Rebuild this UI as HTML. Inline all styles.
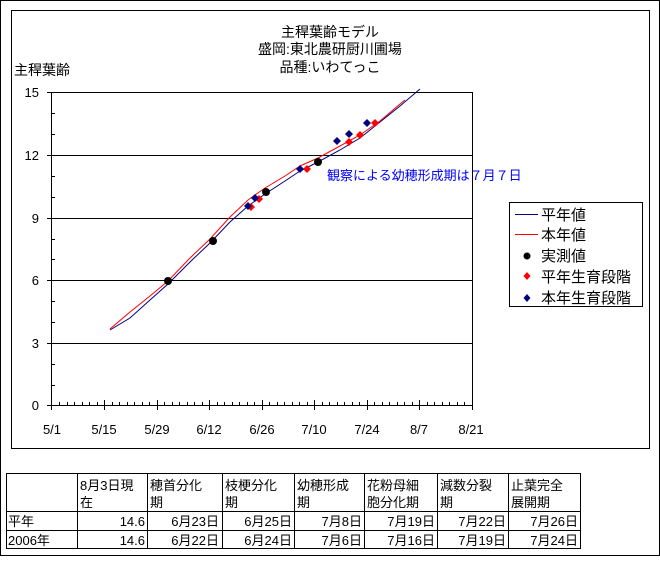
<!DOCTYPE html>
<html><head><meta charset="utf-8"><style>
body{margin:0;background:#fff}
svg text{font-family:"Liberation Sans","Noto Sans CJK JP",sans-serif;}
</style></head><body>
<svg width="660" height="556" viewBox="0 0 660 556" xmlns="http://www.w3.org/2000/svg" shape-rendering="crispEdges">
<rect x="0.5" y="0.5" width="659" height="555" fill="#fff" stroke="#000"/>
<rect x="11.5" y="10.5" width="638" height="438" fill="#fff" stroke="#000"/>
<g font-size="14" text-anchor="middle" fill="#000">
<text x="330" y="37">主稈葉齢モデル</text>
<text x="330" y="54">盛岡:東北農研厨川圃場</text>
<text x="330" y="72">品種:いわてっこ</text>
</g>
<text x="14" y="75" font-size="14">主稈葉齢</text>
<g stroke="#000" stroke-width="1">
<line x1="51.5" y1="92.5" x2="473" y2="92.5"/>
<line x1="51.5" y1="155.5" x2="473" y2="155.5"/>
<line x1="51.5" y1="218.5" x2="473" y2="218.5"/>
<line x1="51.5" y1="280.5" x2="473" y2="280.5"/>
<line x1="51.5" y1="343.5" x2="473" y2="343.5"/>
<line x1="47" y1="405.5" x2="473" y2="405.5"/>
<line x1="51.5" y1="92" x2="51.5" y2="410"/>
<line x1="472.5" y1="92" x2="472.5" y2="405"/>
<line x1="47" y1="92.5" x2="52" y2="92.5"/><line x1="47" y1="155.5" x2="52" y2="155.5"/><line x1="47" y1="218.5" x2="52" y2="218.5"/><line x1="47" y1="280.5" x2="52" y2="280.5"/><line x1="47" y1="343.5" x2="52" y2="343.5"/>
<line x1="51.5" y1="113.5" x2="55" y2="113.5"/><line x1="51.5" y1="134.5" x2="55" y2="134.5"/><line x1="51.5" y1="176.5" x2="55" y2="176.5"/><line x1="51.5" y1="197.5" x2="55" y2="197.5"/><line x1="51.5" y1="239.5" x2="55" y2="239.5"/><line x1="51.5" y1="259.5" x2="55" y2="259.5"/><line x1="51.5" y1="301.5" x2="55" y2="301.5"/><line x1="51.5" y1="322.5" x2="55" y2="322.5"/><line x1="51.5" y1="364.5" x2="55" y2="364.5"/><line x1="51.5" y1="385.5" x2="55" y2="385.5"/>
<path fill="none" d="M59.5,402v3M67.5,402v3M74.5,402v3M82.5,402v3M89.5,402v3M97.5,402v3M112.5,402v3M119.5,402v3M127.5,402v3M134.5,402v3M142.5,402v3M149.5,402v3M164.5,402v3M172.5,402v3M179.5,402v3M187.5,402v3M194.5,402v3M202.5,402v3M217.5,402v3M224.5,402v3M232.5,402v3M239.5,402v3M247.5,402v3M254.5,402v3M269.5,402v3M277.5,402v3M284.5,402v3M292.5,402v3M299.5,402v3M307.5,402v3M322.5,402v3M329.5,402v3M337.5,402v3M344.5,402v3M352.5,402v3M359.5,402v3M374.5,402v3M382.5,402v3M389.5,402v3M397.5,402v3M404.5,402v3M412.5,402v3M427.5,402v3M434.5,402v3M442.5,402v3M449.5,402v3M457.5,402v3M464.5,402v3M104.5,400v10M157.5,400v10M209.5,400v10M262.5,400v10M314.5,400v10M367.5,400v10M419.5,400v10M472.5,400v10"/>
</g>
<g font-size="13" text-anchor="middle">
<text x="52" y="434">5/1</text><text x="104" y="434">5/15</text><text x="157" y="434">5/29</text><text x="209" y="434">6/12</text><text x="262" y="434">6/26</text><text x="314" y="434">7/10</text><text x="367" y="434">7/24</text><text x="419" y="434">8/7</text><text x="471" y="434">8/21</text>
</g>
<g font-size="13" text-anchor="end">
<text x="39" y="97">15</text><text x="39" y="160">12</text><text x="39" y="223">9</text><text x="39" y="285">6</text><text x="39" y="348">3</text><text x="39" y="410">0</text>
</g>
<g shape-rendering="auto" fill="none">
<polyline stroke="#000080" stroke-width="1" points="110,330 130,318 150,300 168,284 190,262 210,243 230,222 248,206 265,194 285,181 300,171 318,162 340,150 360,138 380,122 400,106 420,89"/>
<polyline stroke="#ff0000" stroke-width="1" points="110,329 130,312 150,296 168,281 190,258 210,239 230,217 248,200 265,188 285,176 300,166 318,158 340,146 360,135 380,121 400,104 405,100"/>
</g>
<g shape-rendering="auto">
<g fill="#ff0000">
<path d="M251,203l4,4l-4,4l-4,-4z"/><path d="M259,195l4,4l-4,4l-4,-4z"/><path d="M307,165l4,4l-4,4l-4,-4z"/><path d="M349,138l4,4l-4,4l-4,-4z"/><path d="M360,131l4,4l-4,4l-4,-4z"/><path d="M375,119l4,4l-4,4l-4,-4z"/>
</g>
<g fill="#000080">
<path d="M248,202l4,4l-4,4l-4,-4z"/><path d="M255,194l4,4l-4,4l-4,-4z"/><path d="M300,165l4,4l-4,4l-4,-4z"/><path d="M337,137l4,4l-4,4l-4,-4z"/><path d="M349,130l4,4l-4,4l-4,-4z"/><path d="M367,119l4,4l-4,4l-4,-4z"/>
</g>
<g fill="#000">
<circle cx="168" cy="281" r="4"/><circle cx="213" cy="241" r="4"/><circle cx="266" cy="192" r="4"/><circle cx="318" cy="162" r="4"/>
</g>
</g>
<text x="327" y="180" font-size="13" fill="#0000ff">観察による幼穂形成期は７月７日</text>
<rect x="509.5" y="202.5" width="133" height="104" fill="#fff" stroke="#000"/>
<g font-size="15">
<line x1="515" y1="214.5" x2="538" y2="214.5" stroke="#000080"/><text x="541" y="220">平年値</text>
<line x1="515" y1="234.5" x2="538" y2="234.5" stroke="#ff0000"/><text x="541" y="240">本年値</text>
<circle cx="527" cy="256" r="3.5" fill="#000" shape-rendering="auto"/><text x="541" y="261">実測値</text>
<path d="M527,272l3.5,4l-3.5,4l-3.5,-4z" fill="#ff0000" shape-rendering="auto"/><text x="541" y="282">平年生育段階</text>
<path d="M527,294l3.5,4l-3.5,4l-3.5,-4z" fill="#000080" shape-rendering="auto"/><text x="541" y="303">本年生育段階</text>
</g>
<g stroke="#000">
<rect x="6.5" y="473.5" width="574" height="75" fill="none"/>
<line x1="6" y1="511.5" x2="581" y2="511.5"/><line x1="6" y1="530.5" x2="581" y2="530.5"/>
<line x1="77.5" y1="473" x2="77.5" y2="549"/><line x1="147.5" y1="473" x2="147.5" y2="549"/><line x1="222.5" y1="473" x2="222.5" y2="549"/><line x1="294.5" y1="473" x2="294.5" y2="549"/><line x1="364.5" y1="473" x2="364.5" y2="549"/><line x1="437.5" y1="473" x2="437.5" y2="549"/><line x1="508.5" y1="473" x2="508.5" y2="549"/>
</g>
<g font-size="13">
<text x="80" y="490">8月3日現</text><text x="80" y="507">在</text>
<text x="150" y="490">穂首分化</text><text x="150" y="507">期</text>
<text x="225" y="490">枝梗分化</text><text x="225" y="507">期</text>
<text x="297" y="490">幼穂形成</text><text x="297" y="507">期</text>
<text x="367" y="490">花粉母細</text><text x="367" y="507">胞分化期</text>
<text x="440" y="490">減数分裂</text><text x="440" y="507">期</text>
<text x="511" y="490">止葉完全</text><text x="511" y="507">展開期</text>
<text x="8" y="526">平年</text><text x="8" y="545">2006年</text>
</g>
<g font-size="13" text-anchor="end">
<text x="145" y="526">14.6</text><text x="219" y="526">6月23日</text><text x="292" y="526">6月25日</text><text x="362" y="526">7月8日</text><text x="435" y="526">7月19日</text><text x="506" y="526">7月22日</text><text x="578" y="526">7月26日</text>
<text x="145" y="545">14.6</text><text x="219" y="545">6月22日</text><text x="292" y="545">6月24日</text><text x="362" y="545">7月6日</text><text x="435" y="545">7月16日</text><text x="506" y="545">7月19日</text><text x="578" y="545">7月24日</text>
</g>
</svg>
</body></html>
